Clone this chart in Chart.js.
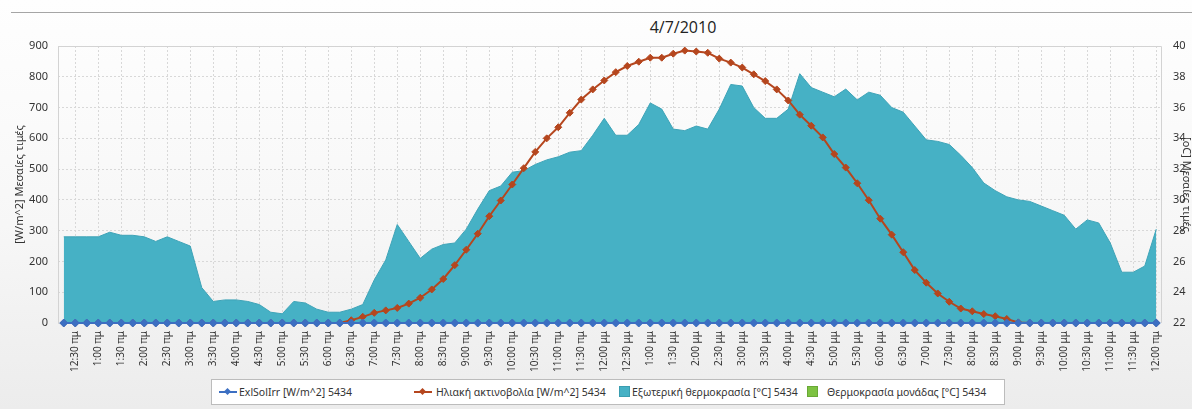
<!DOCTYPE html>
<html>
<head>
<meta charset="utf-8">
<script src="https://cdn.jsdelivr.net/npm/chart.js@4.4.1/dist/chart.umd.min.js"></script>
<style>
    html, body { margin: 0; padding: 0; }
    body {
        width: 1192px; height: 409px; overflow: hidden; position: relative;
        background: linear-gradient(to bottom, #fefefe 0%, #f7f7f7 55%, #ececec 100%);
        font-family: 'Noto Sans', sans-serif; color: #333;
    }
    #topline { position: absolute; left: 11px; right: 0; top: 12px; height: 1px; background: #a5a5a5; }
    #title { position: absolute; left: 613px; width: 140px; top: 16px; text-align: center;
        font-family: 'Open Sans', sans-serif; font-size: 16px; line-height: 22px; color: #222; }
    #c { position: absolute; left: 0; top: 0; }
    #legend { position: absolute; left: 211px; top: 379px; width: 794px; height: 26px;
        background: #fff; border: 1px solid #bcbcbc; box-sizing: border-box; font-size: 10.5px; }
    .item { position: absolute; top: 0; height: 24px; line-height: 24px; white-space: nowrap; color: #333; }
    .sw-line { position: absolute; top: 11px; width: 18px; height: 2px; }
    .sw-dot { position: absolute; width: 5px; height: 5px; transform: rotate(45deg); left: 6px; top: -2px; }
    .sw-box { position: absolute; top: 6px; width: 11px; height: 11px; box-sizing: border-box; }
</style>
</head>
<body>
<div id="topline"></div>
<div id="title">4/7/2010</div>
<canvas id="c" width="1193" height="409"></canvas>
<div id="legend">
    <div class="item" style="left:7px"><div class="sw-line" style="background:#3c6fc2"><div class="sw-dot" style="background:#3c6fc2"></div></div><span style="margin-left:20px">ExlSolIrr [W/m^2] 5434</span></div>
    <div class="item" style="left:202px"><div class="sw-line" style="background:#b5461e"><div class="sw-dot" style="background:#b5461e"></div></div><span style="margin-left:22px">Ηλιακή ακτινοβολία [W/m^2] 5434</span></div>
    <div class="item" style="left:407px"><div class="sw-box" style="background:#46b1c5;border:1px solid #3a9db0"></div><span style="margin-left:13px">Εξωτερική θερμοκρασία [°C] 5434</span></div>
    <div class="item" style="left:595px"><div class="sw-box" style="background:#7dc242;border:1px solid #69a836"></div><span style="margin-left:20px">Θερμοκρασία μονάδας [°C] 5434</span></div>
</div>
<script>
// tick labels shown every 30 minutes; points are every 15 minutes (12:15 πμ .. 12:00 πμ)
const tickLabels = [
    '12:30 πμ', '1:00 πμ', '1:30 πμ', '2:00 πμ', '2:30 πμ', '3:00 πμ', '3:30 πμ', '4:00 πμ',
    '4:30 πμ', '5:00 πμ', '5:30 πμ', '6:00 πμ', '6:30 πμ', '7:00 πμ', '7:30 πμ', '8:00 πμ',
    '8:30 πμ', '9:00 πμ', '9:30 πμ', '10:00 πμ', '10:30 πμ', '11:00 πμ', '11:30 πμ', '12:00 μμ',
    '12:30 μμ', '1:00 μμ', '1:30 μμ', '2:00 μμ', '2:30 μμ', '3:00 μμ', '3:30 μμ', '4:00 μμ',
    '4:30 μμ', '5:00 μμ', '5:30 μμ', '6:00 μμ', '6:30 μμ', '7:00 μμ', '7:30 μμ', '8:00 μμ',
    '8:30 μμ', '9:00 μμ', '9:30 μμ', '10:00 μμ', '10:30 μμ', '11:00 μμ', '11:30 μμ', '12:00 πμ'
];
const quarterLabels = tickLabels.flatMap(t => ['', t]);

// ExlSolIrr [W/m^2]
const exlSolIrr = [
    0, 0, 0, 0, 0, 0, 0, 0, 0, 0, 0, 0, 0, 0, 0, 0, 0, 0, 0, 0, 0, 0, 0, 0,
    0, 0, 0, 0, 0, 0, 0, 0, 0, 0, 0, 0, 0, 0, 0, 0, 0, 0, 0, 0, 0, 0, 0, 0,
    0, 0, 0, 0, 0, 0, 0, 0, 0, 0, 0, 0, 0, 0, 0, 0, 0, 0, 0, 0, 0, 0, 0, 0,
    0, 0, 0, 0, 0, 0, 0, 0, 0, 0, 0, 0, 0, 0, 0, 0, 0, 0, 0, 0, 0, 0, 0, 0
];

// Ηλιακή ακτινοβολία [W/m^2]
const solarRad = [
    0, 0, 0, 0, 0, 0, 0, 0, 0, 0, 0, 0, 0, 0, 0, 0, 0, 0, 0, 0, 0, 0, 0, 0,
    0, 9, 20, 33, 41, 49, 63, 82, 109, 143,
    188, 238, 290, 347, 398, 450, 503, 556, 600, 636,
    683, 726, 759, 788, 815, 835, 849, 862, 862, 875,
    885, 882, 878, 859, 846, 830, 808, 786, 759, 723,
    677, 641, 603, 549, 505, 454, 399, 339, 287, 230,
    172, 131, 96, 69, 47, 38, 29, 22, 13, 2,
    0, 0, 0, 0, 0, 0, 0, 0, 0, 0, 0, 0
];

// Εξωτερική θερμοκρασία [°C]
const outsideTemp = [
    27.6, 27.6, 27.6, 27.6, 27.9, 27.7, 27.7, 27.6, 27.3, 27.6,
    27.3, 27.0, 24.3, 23.4, 23.5, 23.5, 23.4, 23.2, 22.7, 22.6,
    23.4, 23.3, 22.9, 22.7, 22.7, 22.9, 23.2, 24.8, 26.1, 28.4,
    27.3, 26.2, 26.8, 27.1, 27.2, 28.1, 29.4, 30.6, 30.9, 31.8,
    31.9, 32.3, 32.6, 32.8, 33.1, 33.2, 34.2, 35.3, 34.2, 34.2,
    34.9, 36.3, 35.9, 34.6, 34.5, 34.8, 34.6, 35.9, 37.5, 37.4,
    36.0, 35.3, 35.3, 35.9, 38.2, 37.3, 37.0, 36.7, 37.2, 36.5,
    37.0, 36.8, 36.0, 35.7, 34.8, 33.9, 33.8, 33.6, 32.9, 32.1,
    31.1, 30.6, 30.2, 30.0, 29.9, 29.6, 29.3, 29.0, 28.1, 28.7,
    28.5, 27.2, 25.3, 25.3, 25.7, 28.1
];

// Θερμοκρασία μονάδας [°C] - no readings
const unitTemp = quarterLabels.map(() => null);

const frame = {
    id: 'frame',
    beforeDatasetsDraw(chart) {
        const { ctx, chartArea: a } = chart;
        ctx.save();
        ctx.strokeStyle = '#d3d3d3';
        ctx.lineWidth = 1;
        ctx.beginPath();
        ctx.moveTo(Math.round(a.left) + 0.5, a.bottom);
        ctx.lineTo(Math.round(a.left) + 0.5, Math.round(a.top) + 0.5);
        ctx.lineTo(Math.round(a.right) - 0.5, Math.round(a.top) + 0.5);
        ctx.lineTo(Math.round(a.right) - 0.5, a.bottom);
        ctx.stroke();
        ctx.restore();
    }
};

const tickFont = { family: 'Noto Sans', size: 11 };

new Chart(document.getElementById('c'), {
    type: 'line',
    data: {
        labels: quarterLabels,
        datasets: [
            {
                label: 'ExlSolIrr [W/m^2] 5434',
                data: exlSolIrr,
                yAxisID: 'y',
                borderColor: '#3c6fc2',
                backgroundColor: '#3c6fc2',
                borderWidth: 2,
                pointStyle: 'rectRot',
                pointRadius: 4,
                pointBorderWidth: 1,
                tension: 0,
                clip: 8,
                order: 1
            },
            {
                label: 'Ηλιακή ακτινοβολία [W/m^2] 5434',
                data: solarRad,
                yAxisID: 'y',
                borderColor: '#b5461e',
                backgroundColor: '#b5461e',
                borderWidth: 2,
                pointStyle: 'rectRot',
                pointRadius: 3.5,
                pointBorderWidth: 1,
                tension: 0,
                clip: 8,
                order: 2
            },
            {
                label: 'Εξωτερική θερμοκρασία [°C] 5434',
                data: outsideTemp,
                yAxisID: 'y1',
                borderColor: '#3ea3b7',
                backgroundColor: '#46b1c5',
                borderWidth: 1,
                pointRadius: 0,
                fill: 'start',
                tension: 0,
                order: 3
            },
            {
                label: 'Θερμοκρασία μονάδας [°C] 5434',
                data: unitTemp,
                yAxisID: 'y1',
                borderColor: '#7dc242',
                backgroundColor: '#7dc242',
                pointRadius: 0,
                order: 4
            }
        ]
    },
    options: {
        responsive: false,
        animation: false,
        events: [],
        layout: { padding: { left: 12, right: 0, top: 46, bottom: 36 } },
        plugins: { legend: { display: false }, tooltip: { enabled: false } },
        scales: {
            x: {
                offset: true,
                afterFit: s => { s.height = 50; },
                grid: {
                    offset: false,
                    drawTicks: false,
                    color: c => (c.index % 2 === 1 ? '#d8d8d8' : 'rgba(0,0,0,0)'),
                    lineWidth: 1
                },
                border: { display: false, dash: [2, 2] },
                ticks: {
                    autoSkip: false,
                    maxRotation: 90,
                    minRotation: 90,
                    padding: 8,
                    color: '#333',
                    font: { family: 'Noto Sans', size: 10 },
                    callback: (v, i) => quarterLabels[i]
                }
            },
            y: {
                position: 'left',
                min: 0,
                max: 900,
                afterFit: s => { s.width = 46; },
                ticks: { stepSize: 100, padding: 10, color: '#333', font: tickFont },
                grid: { drawTicks: false, color: '#d8d8d8' },
                border: { display: false, dash: [2, 2] },
                title: {
                    display: true,
                    text: '[W/m^2] Μεσαίες τιμές',
                    color: '#333',
                    font: { family: 'Noto Sans', size: 11 },
                    padding: { top: 1, bottom: 0 }
                }
            },
            y1: {
                position: 'right',
                min: 22,
                max: 40,
                afterFit: s => { s.width = 31; },
                ticks: { stepSize: 2, padding: 11, color: '#333', font: tickFont },
                grid: { drawOnChartArea: false, drawTicks: false },
                border: { display: false },
                title: {
                    display: true,
                    text: '[oC] Μεσαίες τιμές',
                    color: '#333',
                    font: { family: 'Noto Sans', size: 11 },
                    padding: { top: 0, bottom: 0 }
                }
            }
        }
    },
    plugins: [frame]
});
</script>
</body>
</html>
